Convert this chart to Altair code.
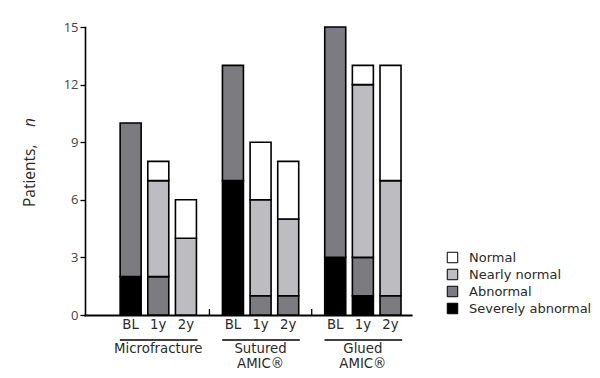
import altair as alt
import pandas as pd

groups = ["Microfracture", "Sutured\nAMIC®", "Glued\nAMIC®"]
times = ["BL", "1y", "2y"]
grades = ["Normal", "Nearly normal", "Abnormal", "Severely abnormal"]
grade_colors = ["#ffffff", "#bdbdc1", "#7b7b80", "#000000"]

# values per bar: Microfracture BL,1y,2y | Sutured BL,1y,2y | Glued BL,1y,2y
severely = [2, 0, 0, 7, 0, 0, 3, 1, 0]
abnormal = [8, 2, 0, 6, 1, 1, 12, 2, 1]
nearly = [0, 5, 4, 0, 5, 4, 0, 9, 6]
normal = [0, 1, 2, 0, 3, 3, 0, 1, 6]

GROUP_STEP = 3.7
W, H = 326, 288
FONT = "DejaVu Sans"
FONT2 = "Open Sans"
TXT = "#2a2a2a"

rows = []
series = {"Severely abnormal": severely, "Abnormal": abnormal,
          "Nearly normal": nearly, "Normal": normal}
order = {"Severely abnormal": 0, "Abnormal": 1, "Nearly normal": 2, "Normal": 3}
for gi, g in enumerate(groups):
    for ti, t in enumerate(times):
        i = gi * 3 + ti
        for grade, vals in series.items():
            if vals[i] > 0:
                rows.append({"pos": gi * GROUP_STEP + ti, "grade": grade,
                             "n": vals[i], "ord": order[grade]})
df = pd.DataFrame(rows)

xscale = alt.Scale(domain=[-1.47, 9.96], nice=False, zero=False)
yscale = alt.Scale(domain=[0, 15], nice=False)

bars = alt.Chart(df).mark_bar(size=21, stroke="black", strokeWidth=1.6).encode(
    x=alt.X("pos:Q", scale=xscale,
            axis=alt.Axis(title=None, labels=False, ticks=False, grid=False,
                          domainColor="black", domainWidth=2.2)),
    y=alt.Y("n:Q", stack="zero", scale=yscale,
            axis=alt.Axis(title=None, values=[0, 3, 6, 9, 12, 15], grid=False,
                          domainColor="black", domainWidth=1.6, tickColor="black",
                          tickSize=5, tickWidth=1.3, labelPadding=2,
                          labelFont=FONT2, labelFontSize=13, labelColor="#444")),
    color=alt.Color("grade:N",
                    scale=alt.Scale(domain=grades, range=grade_colors),
                    legend=alt.Legend(title=None, orient="none", legendX=361,
                                      legendY=224, symbolType="square",
                                      symbolSize=110, symbolStrokeColor="black",
                                      symbolStrokeWidth=1, labelFont=FONT,
                                      labelFontSize=13, labelColor=TXT,
                                      labelOffset=10, rowPadding=2,
                                      symbolOpacity=1)),
    order=alt.Order("ord:Q", sort="ascending"),
)

# bar labels
lab_rows = []
for gi, g in enumerate(groups):
    for ti, t in enumerate(times):
        lab_rows.append({"pos": gi * GROUP_STEP + ti, "lab": t})
labdf = pd.DataFrame(lab_rows)
bar_labels = alt.Chart(labdf).mark_text(font=FONT, fontSize=13.3, color=TXT,
                                        baseline="middle").encode(
    x=alt.X("pos:Q", scale=xscale), y=alt.value(H + 10), text="lab:N")

# group underline and labels
grp_rows = [{"start": gi * GROUP_STEP - 0.39, "end": gi * GROUP_STEP + 2.42,
             "mid": gi * GROUP_STEP + 1, "name": g} for gi, g in enumerate(groups)]
grpdf = pd.DataFrame(grp_rows)
underline = alt.Chart(grpdf).mark_rule(color="black", strokeWidth=1.6).encode(
    x=alt.X("start:Q", scale=xscale), x2="end:Q", y=alt.value(H + 25))
grp_labels = alt.Chart(grpdf).mark_text(font=FONT, fontSize=13.3, color=TXT,
                                        baseline="middle", lineBreak="\n",
                                        lineHeight=15).encode(
    x=alt.X("mid:Q", scale=xscale), y=alt.value(H + 34), text="name:N")

# separator ticks on the x axis
sepdf = pd.DataFrame({"sep": [2 + (GROUP_STEP - 2) / 2,
                              GROUP_STEP + 2 + (GROUP_STEP - 2) / 2]})
seps = alt.Chart(sepdf).mark_rule(color="black", strokeWidth=1.3).encode(
    x=alt.X("sep:Q", scale=xscale), y=alt.value(H - 6), y2=alt.value(H))

# y title "Patients, n"
title1 = alt.Chart(pd.DataFrame({"t": ["Patients,"]})).mark_text(
    font=FONT2, fontSize=15.5, color=TXT, angle=270, align="left",
    baseline="middle").encode(x=alt.value(-55), y=alt.value(180), text="t:N")
title2 = alt.Chart(pd.DataFrame({"t": ["n"]})).mark_text(
    font=FONT2, fontSize=15.5, color=TXT, angle=270, align="left",
    baseline="middle", fontStyle="italic").encode(
    x=alt.value(-55), y=alt.value(100), text="t:N")

chart = alt.layer(bars, bar_labels, underline, grp_labels, seps, title1, title2).properties(
    width=W, height=H,
    autosize=alt.AutoSizeParams(type="none"),
    padding={"left": 77, "top": 19, "right": 181, "bottom": 55},
).configure_view(stroke=None).configure_axis(domainCap="square")

chart.save("out.html", embed_options={"renderer": "svg", "actions": False})
